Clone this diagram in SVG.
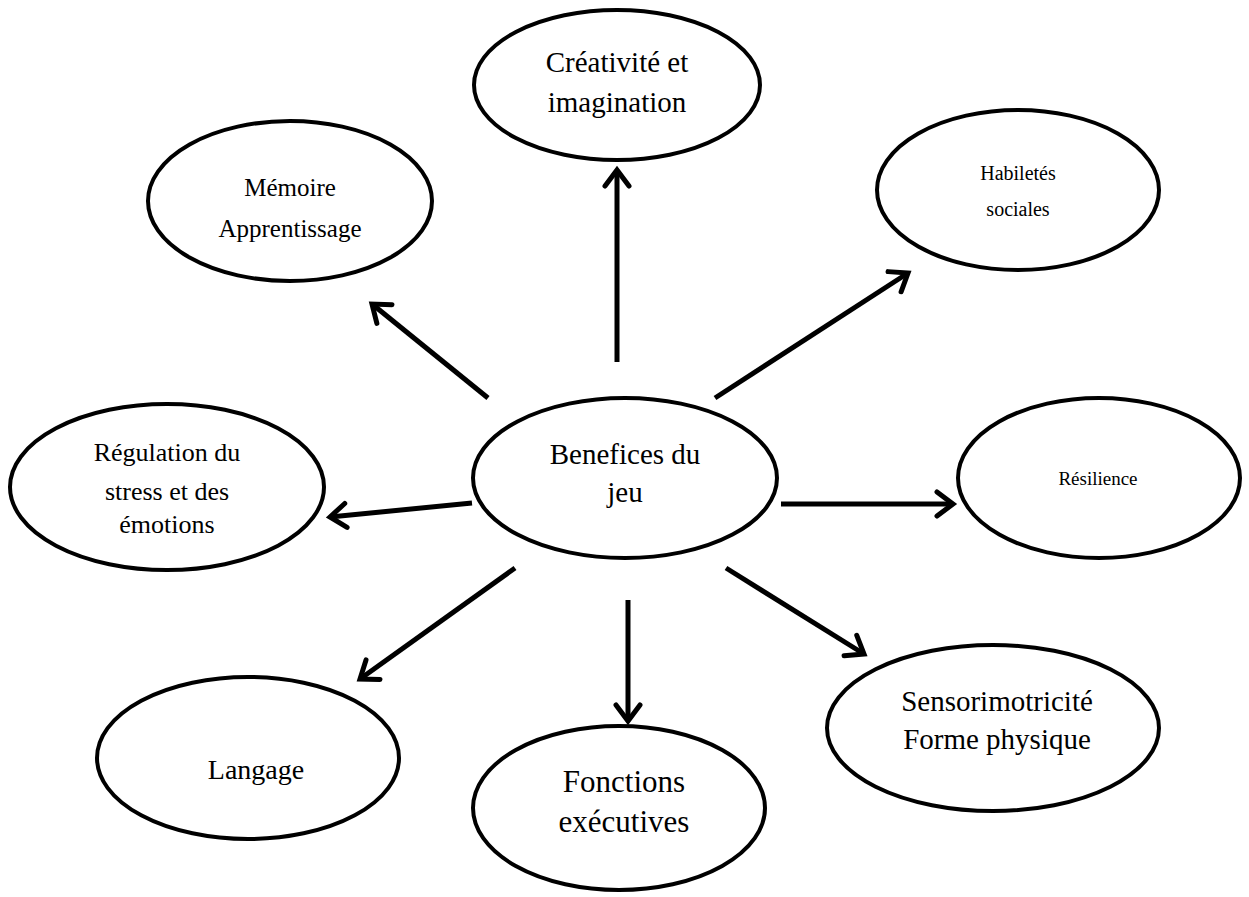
<svg xmlns="http://www.w3.org/2000/svg" width="1249" height="897" viewBox="0 0 1249 897">
<defs>
<marker id="ah" markerUnits="userSpaceOnUse" markerWidth="40" markerHeight="40" viewBox="-20 -20 40 40" refX="0" refY="0" orient="auto">
<path d="M-16,-12 L0,0 L-16,12" fill="none" stroke="#000" stroke-width="5" stroke-linecap="round" stroke-linejoin="miter"/>
</marker>
</defs>
<style>
.n ellipse{fill:#fff;stroke:#000;stroke-width:4}
.n text{font-family:"Liberation Serif","Times New Roman",serif;fill:#000;text-anchor:middle}
.c line{stroke:#000;stroke-width:5;marker-end:url(#ah)}
</style>
<rect width="1249" height="897" fill="#fff"/>
<g class="c" id="connectors">
<line x1="617" y1="362" x2="617" y2="170"/>
<line x1="488" y1="398" x2="372" y2="304"/>
<line x1="715" y1="398" x2="908" y2="273"/>
<line x1="781" y1="504" x2="953" y2="504"/>
<line x1="472" y1="503" x2="330" y2="517"/>
<line x1="515" y1="568" x2="360" y2="679"/>
<line x1="628" y1="600" x2="628" y2="721"/>
<line x1="726" y1="568" x2="864" y2="654"/>
</g>
<g class="n" id="center"><ellipse cx="625" cy="478" rx="152" ry="80"/><text font-size="29"><tspan x="625" y="464">Benefices du</tspan><tspan x="625" y="502">jeu</tspan></text></g>
<g class="n" id="creativite"><ellipse cx="617" cy="85" rx="143" ry="75"/><text font-size="29"><tspan x="617" y="72">Créativité et</tspan><tspan x="617" y="112">imagination</tspan></text></g>
<g class="n" id="memoire"><ellipse cx="290" cy="201" rx="142" ry="80"/><text font-size="25"><tspan x="290" y="196">Mémoire</tspan><tspan x="290" y="237">Apprentissage</tspan></text></g>
<g class="n" id="habiletes"><ellipse cx="1018" cy="190" rx="141" ry="80"/><text font-size="20"><tspan x="1018" y="180">Habiletés</tspan><tspan x="1018" y="216">sociales</tspan></text></g>
<g class="n" id="regulation"><ellipse cx="167" cy="487" rx="157" ry="83"/><text font-size="26"><tspan x="167" y="461">Régulation du</tspan><tspan x="167" y="500">stress et des</tspan><tspan x="167" y="533">émotions</tspan></text></g>
<g class="n" id="resilience"><ellipse cx="1099" cy="478" rx="141" ry="80"/><text font-size="19" x="1098" y="485">Résilience</text></g>
<g class="n" id="sensori"><ellipse cx="993" cy="728" rx="166" ry="83"/><text font-size="29"><tspan x="997" y="711">Sensorimotricité</tspan><tspan x="997" y="749">Forme physique</tspan></text></g>
<g class="n" id="langage"><ellipse cx="248" cy="758" rx="151" ry="81"/><text font-size="28" x="256" y="779">Langage</text></g>
<g class="n" id="fonctions"><ellipse cx="619" cy="808" rx="146" ry="82"/><text font-size="31"><tspan x="624" y="792">Fonctions</tspan><tspan x="624" y="832">exécutives</tspan></text></g>
</svg>
